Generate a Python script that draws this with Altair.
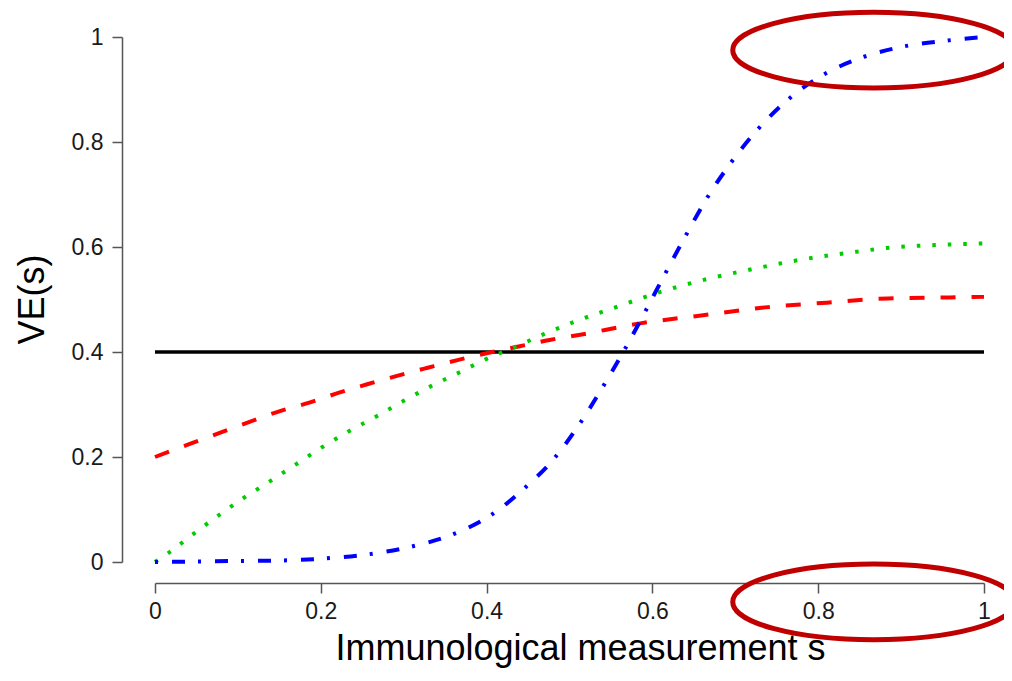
import altair as alt
import pandas as pd

# ---- data ----
blue_s = [0.0, 0.103, 0.155, 0.207, 0.259, 0.311, 0.360, 0.406, 0.446, 0.482,
          0.513, 0.540, 0.567, 0.591, 0.615, 0.640, 0.665, 0.694, 0.727, 0.763,
          0.806, 0.853, 0.903, 0.954, 1.0]
blue_ve = [0.0, 0.002, 0.003, 0.007, 0.015, 0.030, 0.053, 0.090, 0.141, 0.198,
           0.265, 0.333, 0.406, 0.476, 0.548, 0.621, 0.691, 0.759, 0.824, 0.880,
           0.928, 0.961, 0.982, 0.993, 1.0]

green_s = [0.0, 0.016, 0.046, 0.076, 0.107, 0.139, 0.170, 0.202, 0.234, 0.268,
           0.300, 0.333, 0.367, 0.400, 0.435, 0.469, 0.505, 0.557, 0.611, 0.666,
           0.721, 0.776, 0.832, 0.889, 0.944, 0.982, 1.0]
green_ve = [0.0, 0.017, 0.053, 0.088, 0.122, 0.154, 0.186, 0.219, 0.249, 0.278,
            0.307, 0.335, 0.361, 0.387, 0.410, 0.434, 0.457, 0.486, 0.515, 0.539,
            0.558, 0.575, 0.588, 0.599, 0.604, 0.606, 0.607]

red_s = [0.0, 0.042, 0.078, 0.114, 0.148, 0.185, 0.221, 0.257, 0.293, 0.329,
         0.366, 0.404, 0.440, 0.476, 0.513, 0.587, 0.661, 0.736, 0.810, 0.884,
         0.959, 1.0]
red_ve = [0.200, 0.225, 0.246, 0.267, 0.286, 0.303, 0.322, 0.339, 0.355, 0.370,
          0.385, 0.399, 0.411, 0.423, 0.433, 0.455, 0.470, 0.485, 0.494, 0.502,
          0.504, 0.505]

black_s = [0.0, 1.0]
black_ve = [0.4, 0.4]

ellipse_s = [0.867, 0.867]
ellipse_ve = [0.975, -0.076]

x_ticks = [0, 0.2, 0.4, 0.6, 0.8, 1]
y_ticks = [0, 0.2, 0.4, 0.6, 0.8, 1]
x_title = "Immunological measurement s"
y_title = "VE(s)"

FONT = "Liberation Sans"
AXIS_GRAY = "#555555"

xscale = alt.Scale(domain=[0, 1], nice=False, zero=False)
yscale = alt.Scale(domain=[0, 1], nice=False, zero=False)

xaxis = alt.Axis(
    values=x_ticks, format="~g", title=x_title, offset=21, tickSize=10,
    labelPadding=7, grid=False, domainColor=AXIS_GRAY, tickColor=AXIS_GRAY,
    domainWidth=1.5, tickWidth=1.5, labelFont=FONT, labelFontSize=23,
    labelColor="#1a1a1a", labelFlush=False, labelOverlap=False,
    titleFont=FONT, titleFontSize=36, titleFontWeight="normal",
    titleColor="#000000", titleX=425, titleY=76, titleBaseline="alphabetic",
)
yaxis = alt.Axis(
    values=y_ticks, format="~g", title=y_title, offset=33, tickSize=10,
    labelPadding=9, grid=False, domainColor=AXIS_GRAY, tickColor=AXIS_GRAY,
    domainWidth=1.5, tickWidth=1.5, labelFont=FONT, labelFontSize=23,
    labelColor="#1a1a1a", labelFlush=False, labelOverlap=False,
    titleFont=FONT, titleFontSize=36, titleFontWeight="normal",
    titleColor="#000000", titleX=-79, titleY=262, titleBaseline="alphabetic",
)

X = alt.X("s:Q", scale=xscale, axis=xaxis)
Y = alt.Y("ve:Q", scale=yscale, axis=yaxis)


def line_layer(s, ve, color, width, dash=None):
    df = pd.DataFrame({"s": s, "ve": ve})
    kw = dict(color=color, strokeWidth=width, interpolate="monotone", strokeCap="butt")
    if dash is not None:
        kw["strokeDash"] = dash
    return alt.Chart(df).mark_line(**kw).encode(x=X, y=Y)


black = line_layer(black_s, black_ve, "#000000", 3.5)
red = line_layer(red_s, red_ve, "#FF0000", 4, [15, 16])
green = line_layer(green_s, green_ve, "#00CC00", 4, [3.5, 12])
blue = line_layer(blue_s, blue_ve, "#0000FF", 4, [3, 14, 13, 13])

k = 0.5523
r = 0.268
kr = round(k * r, 4)
ellipse_path = (
    f"M -1 0 C -1 {-kr} {-k} {-r} 0 {-r} "
    f"C {k} {-r} 1 {-kr} 1 0 "
    f"C 1 {kr} {k} {r} 0 {r} "
    f"C {-k} {r} -1 {kr} -1 0 Z"
)
ell_df = pd.DataFrame({"s": ellipse_s, "ve": ellipse_ve})
ellipses = alt.Chart(ell_df).mark_point(
    shape=ellipse_path, filled=False, size=282 * 282, color="#C00000",
    strokeWidth=5, opacity=1,
).encode(x=X, y=Y)

chart = alt.layer(black, red, green, blue, ellipses).properties(
    width=829, height=525,
    autosize=alt.AutoSizeParams(type="none"),
    padding={"left": 147, "top": 29, "right": 20, "bottom": 107},
    background="white",
).configure_view(strokeWidth=0)

chart.save("out.html", embed_options={"renderer": "svg", "actions": False})
